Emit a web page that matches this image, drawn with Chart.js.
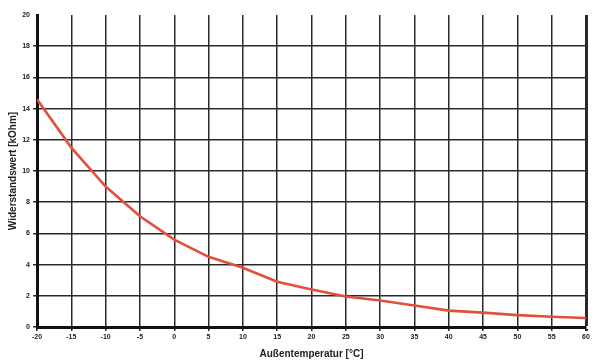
<!DOCTYPE html>
<html>
<head>
<meta charset="utf-8">
<script src="https://cdn.jsdelivr.net/npm/chart.js@4/dist/chart.umd.min.js"></script>
<style>
  html, body { margin: 0; padding: 0; background: #fff; }
  #wrap { width: 592px; height: 362px; }
</style>
</head>
<body>
<div id="wrap"><canvas id="ntc-chart"></canvas></div>
<script>
// Temperature (°C) and resistance (kOhm)
const temperatures = [-20, -15, -10, -5, 0, 5, 10, 15, 20, 25, 30, 35, 40, 45, 50, 55, 60];
const resistances = [14.6, 11.5, 9.0, 7.1, 5.6, 4.5, 3.8, 2.9, 2.4, 1.95, 1.7, 1.38, 1.05, 0.92, 0.76, 0.66, 0.58];

const points = temperatures.map((t, i) => ({ x: t, y: resistances[i] }));

const tickFont = { family: 'Liberation Sans, Arial, sans-serif', size: 7, weight: 'bold' };
const titleFont = { family: 'Liberation Sans, Arial, sans-serif', size: 10, weight: 'bold' };

const ctx = document.getElementById('ntc-chart').getContext('2d');
new Chart(ctx, {
  type: 'line',
  data: {
    datasets: [
      {
        label: 'Widerstandswert',
        data: points,
        borderColor: '#e0503c',
        borderWidth: 2.6,
        pointRadius: 0,
        tension: 0,
        fill: false
      }
    ]
  },
  options: {
    responsive: true,
    maintainAspectRatio: false,
    animation: false,
    layout: { padding: { top: 15, right: 6, left: 0, bottom: 0 } },
    scales: {
      x: {
        type: 'linear',
        min: -20,
        max: 60,
        ticks: { stepSize: 5, color: '#222', font: tickFont, padding: 2, maxRotation: 0 },
        grid: {
          color: '#2a2a2a',
          lineWidth: c => (c.tick && c.tick.value === 60 ? 3 : 1.5),
          tickLength: 4
        },
        border: { display: true, color: '#111', width: 3 },
        title: { display: true, text: 'Außentemperatur [°C]', color: '#222', font: titleFont, padding: { top: 4, bottom: 2 } },
        afterFit: scale => { scale.height = 35; }
      },
      y: {
        min: 0,
        max: 20,
        ticks: { stepSize: 2, color: '#222', font: tickFont, padding: 3 },
        grid: {
          color: c => (c.tick && c.tick.value === 20 ? 'rgba(0,0,0,0)' : '#2a2a2a'),
          lineWidth: 1.5,
          tickLength: 4
        },
        border: { display: true, color: '#111', width: 3 },
        title: { display: true, text: 'Widerstandswert [kOhm]', color: '#222', font: titleFont, padding: { top: 7, bottom: 0 } },
        afterFit: scale => { scale.width = 37; }
      }
    },
    plugins: {
      legend: { display: false },
      tooltip: { enabled: false }
    }
  }
});
</script>
</body>
</html>
